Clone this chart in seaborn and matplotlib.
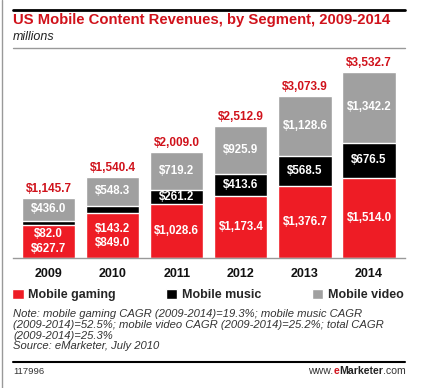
import pandas as pd
import matplotlib.pyplot as plt
import seaborn as sns
from matplotlib.patches import Patch
from matplotlib.lines import Line2D

# Data (millions of US$)
years = ['2009', '2010', '2011', '2012', '2013', '2014']
gaming = [627.7, 849.0, 1028.6, 1173.4, 1376.7, 1514.0]
music = [82.0, 143.2, 261.2, 413.6, 568.5, 676.5]
video = [436.0, 548.3, 719.2, 925.9, 1128.6, 1342.2]
totals = [1145.7, 1540.4, 2009.0, 2512.9, 3073.9, 3532.7]

RED = '#ee1c25'
BLACK = '#000000'
GREY = '#a0a0a0'
TITLE_RED = '#d0121b'

df = pd.DataFrame({'year': years, 'gaming': gaming, 'music': music, 'video': video})
df['gm'] = df['gaming'] + df['music']
df['all'] = df['gm'] + df['video']

sns.set_style('white')
plt.rcParams['font.family'] = ['Liberation Sans', 'DejaVu Sans']

W, H = 428, 388
fig = plt.figure(figsize=(W / 100, H / 100), dpi=100)
ax = fig.add_axes([13 / W, 1 - 258 / H, 392 / W, 198 / H])

# stacked bars drawn as layered cumulative bars
sns.barplot(data=df, x='year', y='all', color=GREY, saturation=1, width=0.83, ax=ax)
sns.barplot(data=df, x='year', y='gm', color=BLACK, saturation=1, width=0.83, ax=ax)
sns.barplot(data=df, x='year', y='gaming', color=RED, saturation=1, width=0.83, ax=ax)

ax.set_xlim(-0.554, 5.561)
ax.set_ylim(0, 3760)
ax.set_xlabel('')
ax.set_ylabel('')
ax.set_yticks([])
for s in ['top', 'left', 'right']:
    ax.spines[s].set_visible(False)
ax.spines['bottom'].set_color('#999999')
ax.spines['bottom'].set_linewidth(1)
ax.tick_params(axis='x', length=0, pad=7)
for lbl in ax.get_xticklabels():
    lbl.set_fontweight('bold')
    lbl.set_fontsize(9)
    lbl.set_color('#111111')

fmt = lambda v: '${:,.1f}'.format(v)
lab = dict(color='white', fontsize=8.3, fontweight='bold', ha='center', va='center')
for i in range(len(years)):
    g, m, v, t = gaming[i], music[i], video[i], totals[i]
    if i < 2:
        ax.text(i, g / 2, fmt(m) + '\n' + fmt(g), linespacing=1.25, **lab)
    else:
        ax.text(i, g / 2, fmt(g), **lab)
        ax.text(i, g + m / 2, fmt(m), **lab)
    ax.text(i, g + m + v / 2, fmt(v), **lab)
    ax.annotate(fmt(t), (i, t), xytext=(0, 2), textcoords='offset points',
                ha='center', va='bottom', color=TITLE_RED, fontsize=8.5, fontweight='bold')

# header
fig.add_artist(Line2D([13 / W, 405 / W], [1 - 10 / H] * 2, color='black', lw=2))
fig.text(13 / W, 1 - 20 / H, 'US Mobile Content Revenues, by Segment, 2009-2014',
         color=TITLE_RED, fontsize=10.7, fontweight='bold', va='center', ha='left')
fig.text(13 / W, 1 - 37 / H, 'millions', color='#222222', fontsize=9,
         style='italic', va='center', ha='left')
fig.add_artist(Line2D([13 / W, 405 / W], [1 - 48 / H] * 2, color='#999999', lw=1))
fig.add_artist(Line2D([2 / W, 2 / W], [0, 1], color='#999999', lw=1))

# legend
handles = [Patch(facecolor=RED, label='Mobile gaming'),
           Patch(facecolor=BLACK, label='Mobile music'),
           Patch(facecolor=GREY, label='Mobile video')]
leg = fig.legend(handles=handles, ncol=3, loc='center left', frameon=False,
                 bbox_to_anchor=(1 / W, 1 - 295 / H), handlelength=0.9, handleheight=0.9,
                 handletextpad=0.4, columnspacing=4.0, prop={'weight': 'bold', 'size': 9})

# note and source
note = ('Note: mobile gaming CAGR (2009-2014)=19.3%; mobile music CAGR\n'
        '(2009-2014)=52.5%; mobile video CAGR (2009-2014)=25.2%; total CAGR\n'
        '(2009-2014)=25.3%\n'
        'Source: eMarketer, July 2010')
fig.text(13 / W, 1 - 309 / H, note, color='#333333', fontsize=8.1, style='italic',
         va='top', ha='left', linespacing=1.1)
fig.add_artist(Line2D([13 / W, 405 / W], [1 - 362 / H] * 2, color='black', lw=1.5))
fig.text(13 / W, 1 - 371 / H, '117996', color='#333333', fontsize=6.8, va='center')

# footer url, pieces chained left to right
t1 = fig.text(308 / W, 1 - 371 / H, 'www.', color='#333333', fontsize=7.6, va='center')
t2 = fig.text(0, 0, 'e', color=TITLE_RED, fontsize=7.6, fontweight='bold', va='center')
t3 = fig.text(0, 0, 'Marketer', color='#222222', fontsize=7.6, fontweight='bold', va='center')
t4 = fig.text(0, 0, '.com', color='#333333', fontsize=7.6, va='center')
fig.canvas.draw()
r = fig.canvas.get_renderer()
x = t1.get_window_extent(r).x1
for t in [t2, t3, t4]:
    t.set_position((x / fig.bbox.width, 1 - 371 / H))
    w = t.get_window_extent(r).width
    x += w

fig.savefig('out.png', dpi=100)
